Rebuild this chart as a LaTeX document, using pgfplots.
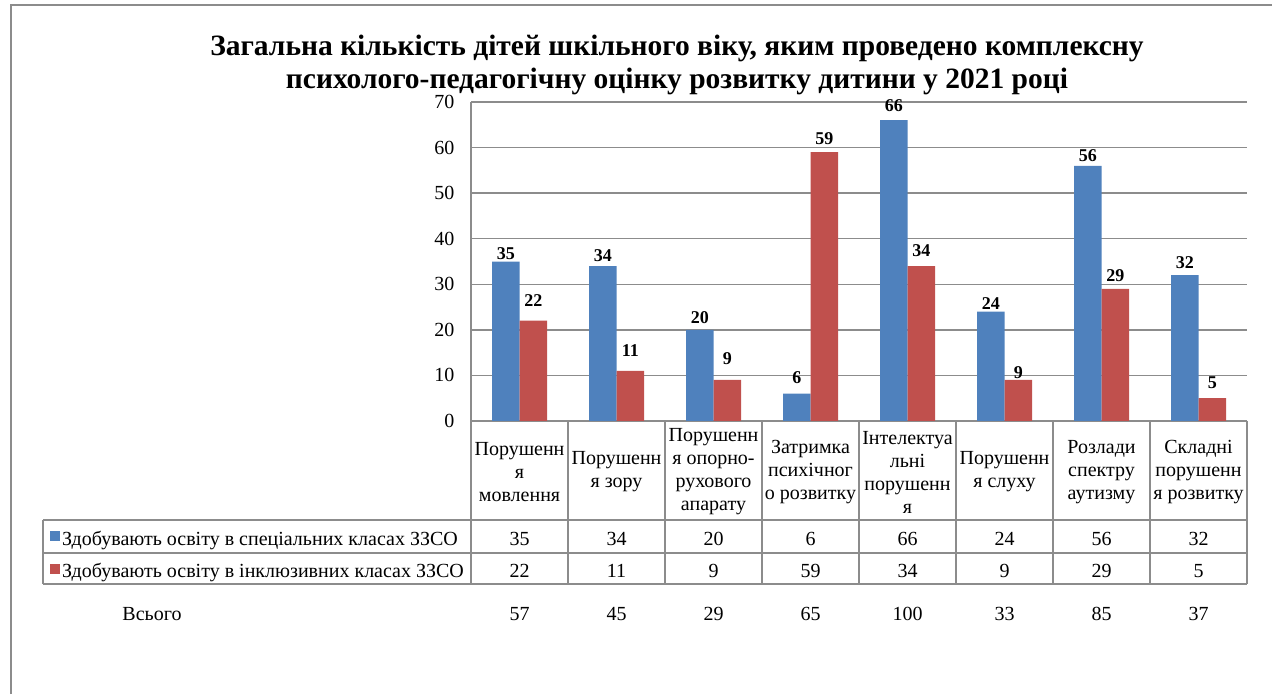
\documentclass[border=0pt]{standalone}
\usepackage{pgfplots}
\usepackage{pgfplotstable}
\pgfplotsset{compat=1.18}
\usepackage{fontspec}
\setmainfont{Liberation Serif}
\definecolor{sblue}{HTML}{4F81BD}
\definecolor{sred}{HTML}{C0504D}
\definecolor{lgray}{HTML}{8C8C8C}

% x: category position; spec/incl: values; total: row "Всього";
% lb/lr: vertical position of the data labels (as placed in the original)
\pgfplotstableread{
x spec incl total lb lr
0.5 35 22 57 36.8 26.4
1.5 34 11 45 36.3 15.4
2.5 20 9 29 22.7 13.6
3.5 6 59 65 9.5 61.9
4.5 66 34 100 69.3 37.4
5.5 24 9 33 25.8 10.6
6.5 56 29 85 58.3 31.9
7.5 32 5 37 34.8 8.4
}\data

\begin{document}
\begin{tikzpicture}[x=1pt,y=1pt]
\useasboundingbox (0,0) rectangle (1272,694);
\draw[lgray, line width=1.5pt] (11,0) -- (11,689) -- (1272,689);
\node[font=\fontsize{29.5}{33}\selectfont\bfseries, align=center] at (677,629.5)
  {Загальна кількість дітей шкільного віку, яким проведено комплексну\\психолого-педагогічну оцінку розвитку дитини у 2021 році};
\begin{axis}[at={(471pt,273pt)}, anchor=south west, scale only axis,
  width=776pt, height=319pt,
  xmin=0, xmax=8, ymin=0, ymax=70,
  ytick={0,10,...,70}, xtick=\empty,
  axis x line*=bottom, axis y line*=left,
  axis line style={lgray, line width=1.5pt, -},
  ymajorgrids, grid style={lgray, line width=1.5pt},
  major tick length=0pt,
  yticklabel style={font=\fontsize{20}{20}\selectfont, xshift=-13pt},
  /pgf/number format/assume math mode=true,
  clip=false,
  nodes near coords style={font=\fontsize{18}{18}\selectfont\bfseries, inner sep=0pt, anchor=center},
]
\addplot[ybar, bar width=27.5pt, bar shift=-13.75pt, fill=sblue, draw=none] table[x=x, y=spec]{\data};
\addplot[ybar, bar width=27.5pt, bar shift=13.75pt, fill=sred, draw=none] table[x=x, y=incl]{\data};
\addplot[draw=none, mark=none, nodes near coords, point meta=\thisrow{spec},
  every node near coord/.append style={anchor=center, xshift=-13.75pt}] table[x=x, y=lb]{\data};
\addplot[draw=none, mark=none, nodes near coords, point meta=\thisrow{incl},
  every node near coord/.append style={anchor=center, xshift=13.75pt}] table[x=x, y=lr]{\data};
\end{axis}
% data table
\draw[lgray, line width=1.5pt] (43,174) -- (1247,174);
\draw[lgray, line width=1.5pt] (43,141) -- (1247,141);
\draw[lgray, line width=1.5pt] (43,110) -- (1247,110);
\draw[lgray, line width=1.5pt] (43,174) -- (43,110);
\draw[lgray, line width=1.5pt] (471,273) -- (471,110);
\foreach \xx in {568,665,762,859,956,1053,1150,1247} {
  \draw[lgray, line width=1.5pt] (\xx,273) -- (\xx,110);
}
\foreach \lab [count=\i from 0] in {{Порушенн\\я\\мовлення},{Порушенн\\я зору},{Порушенн\\я опорно-\\рухового\\апарату},{Затримка\\психічног\\о розвитку},{Інтелектуа\\льні\\порушенн\\я},{Порушенн\\я слуху},{Розлади\\спектру\\аутизму},{Складні\\порушенн\\я розвитку}} {
  \node[font=\fontsize{20}{23}\selectfont, align=center, inner sep=0pt] at (519.5+97*\i,222) {\lab};
}
\foreach \i in {0,...,7} {
  \pgfplotstablegetelem{\i}{spec}\of\data
  \node[font=\fontsize{20}{23}\selectfont, anchor=mid, inner sep=0pt] at (519.5+97*\i,151) {\pgfplotsretval};
  \pgfplotstablegetelem{\i}{incl}\of\data
  \node[font=\fontsize{20}{23}\selectfont, anchor=mid, inner sep=0pt] at (519.5+97*\i,119) {\pgfplotsretval};
  \pgfplotstablegetelem{\i}{total}\of\data
  \node[font=\fontsize{20}{23}\selectfont, anchor=mid, inner sep=0pt] at (519.5+97*\i,76) {\pgfplotsretval};
}
\fill[sblue] (50,152.5) rectangle (60,162.5);
\fill[sred] (50,120.5) rectangle (60,130.5);
\node[font=\fontsize{20}{23}\selectfont, anchor=mid west, inner sep=0pt] at (62,151) {Здобувають освіту в спеціальних класах ЗЗСО};
\node[font=\fontsize{20}{23}\selectfont, anchor=mid west, inner sep=0pt] at (62,119) {Здобувають освіту в інклюзивних класах ЗЗСО};
\node[font=\fontsize{20}{23}\selectfont, anchor=mid, inner sep=0pt] at (152,76) {Всього};
\end{tikzpicture}
\end{document}
